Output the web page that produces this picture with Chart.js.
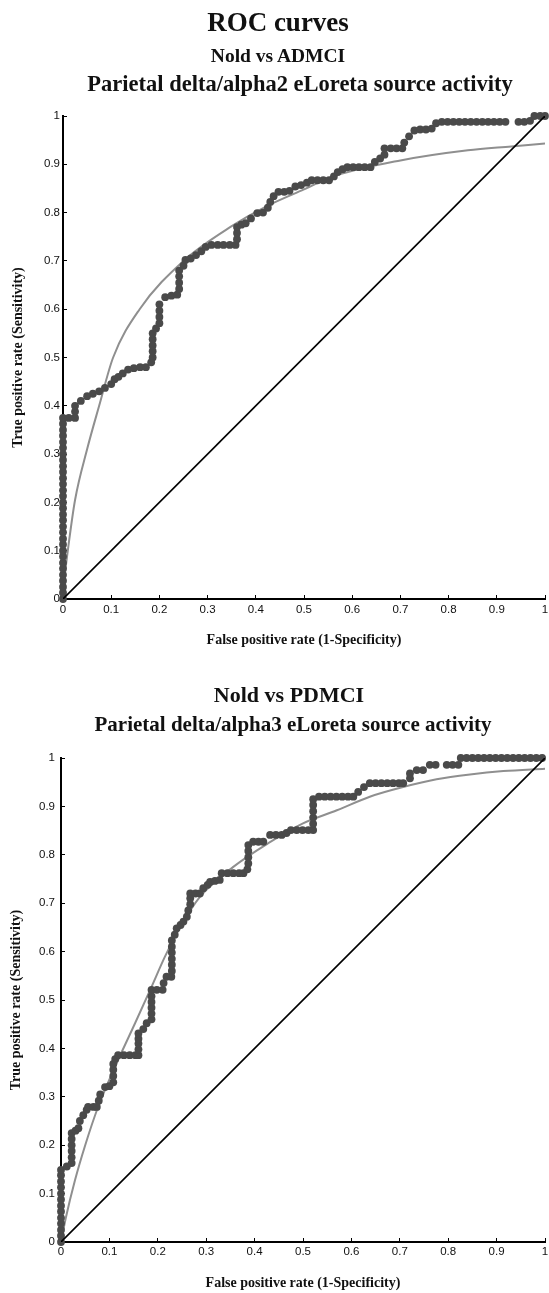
<!DOCTYPE html>
<html>
<head>
<meta charset="utf-8">
<title>ROC curves</title>
<script src="https://cdn.jsdelivr.net/npm/chart.js@4.4.1/dist/chart.umd.min.js"></script>
<style>
  html, body { margin: 0; padding: 0; background: #fff; }
  body { position: relative; width: 549px; height: 1293px; overflow: hidden; }
  canvas { position: absolute; left: 0; }
  .t {
    position: absolute;
    font-family: 'Liberation Serif', 'Times New Roman', serif;
    font-weight: bold;
    line-height: 1;
    white-space: nowrap;
    transform: translateX(-50%);
    color: #111;
  }
</style>
</head>
<body>
<canvas id="admciChart" width="549" height="655" style="top:0"></canvas>
<canvas id="pdmciChart" width="549" height="638" style="top:655px"></canvas>

<div class="t" style="left:278px;top:9px;font-size:27px">ROC curves</div>
<div class="t" style="left:278px;top:46px;font-size:19.5px">Nold vs ADMCI</div>
<div class="t" style="left:300px;top:73px;font-size:22.5px">Parietal delta/alpha2 eLoreta source activity</div>
<div class="t" style="left:289px;top:684px;font-size:22px">Nold vs PDMCI</div>
<div class="t" style="left:293px;top:714px;font-size:21px">Parietal delta/alpha3 eLoreta source activity</div>

<script>
// axis ticks (both axes, both charts)
const tickValues = [0, 0.1, 0.2, 0.3, 0.4, 0.5, 0.6, 0.7, 0.8, 0.9, 1];

// chance line
const chanceFpr = [0, 1];
const chanceTpr = [0, 1];

// Nold vs ADMCI - empirical ROC points [fpr, tpr]
const admciRoc = [
  [0,0],[0,0.013],[0,0.025],[0,0.038],[0,0.05],[0,0.063],[0,0.075],[0,0.088],[0,0.1],[0,0.113],
  [0,0.125],[0,0.138],[0,0.15],[0,0.163],[0,0.175],[0,0.188],[0,0.2],[0,0.213],[0,0.225],[0,0.238],
  [0,0.25],[0,0.263],[0,0.275],[0,0.288],[0,0.3],[0,0.313],[0,0.325],[0,0.338],[0,0.35],[0,0.363],[0,0.375],
  [0.012,0.375],[0.025,0.375],[0.025,0.388],[0.025,0.4],[0.037,0.41],[0.05,0.42],[0.062,0.425],[0.075,0.43],
  [0.087,0.437],[0.1,0.445],[0.107,0.455],[0.115,0.46],[0.124,0.467],[0.135,0.475],[0.147,0.478],[0.16,0.48],
  [0.172,0.48],[0.183,0.49],[0.186,0.5],[0.186,0.513],[0.186,0.525],[0.186,0.538],[0.186,0.55],[0.193,0.56],
  [0.2,0.571],[0.2,0.584],[0.2,0.597],[0.2,0.61],[0.212,0.625],[0.225,0.628],[0.237,0.63],[0.241,0.642],
  [0.241,0.655],[0.241,0.668],[0.241,0.68],[0.25,0.69],[0.254,0.702],[0.265,0.705],[0.276,0.712],[0.287,0.72],
  [0.296,0.729],[0.308,0.733],[0.321,0.733],[0.333,0.733],[0.346,0.733],[0.358,0.733],[0.361,0.745],[0.361,0.758],
  [0.361,0.77],[0.37,0.775],[0.379,0.778],[0.39,0.788],[0.403,0.799],[0.415,0.8],[0.425,0.81],[0.43,0.822],
  [0.437,0.834],[0.447,0.843],[0.459,0.843],[0.47,0.845],[0.482,0.854],[0.494,0.857],[0.506,0.862],[0.516,0.867],
  [0.528,0.867],[0.54,0.867],[0.552,0.867],[0.562,0.875],[0.57,0.884],[0.58,0.89],[0.59,0.894],[0.602,0.894],
  [0.614,0.894],[0.626,0.894],[0.638,0.894],[0.647,0.905],[0.658,0.912],[0.667,0.92],[0.667,0.933],[0.68,0.933],
  [0.692,0.933],[0.704,0.933],[0.708,0.945],[0.718,0.958],[0.729,0.97],[0.741,0.972],[0.753,0.972],[0.765,0.974],
  [0.774,0.985],[0.786,0.988],[0.798,0.988],[0.81,0.988],[0.822,0.988],[0.834,0.988],[0.846,0.988],[0.858,0.988],
  [0.87,0.988],[0.882,0.988],[0.894,0.988],[0.906,0.988],[0.918,0.988],[0.945,0.988],[0.957,0.988],[0.969,0.99],
  [0.978,1],[0.99,1],[1,1]
];

// Nold vs ADMCI - fitted (smooth) ROC
const admciFit = [
  [0,0],[0.004,0.05],[0.011,0.108],[0.025,0.205],[0.05,0.31],[0.075,0.4],[0.104,0.5],[0.159,0.6],
  [0.25,0.7],[0.35,0.772],[0.42,0.812],[0.5,0.848],[0.564,0.876],[0.7,0.908],[0.84,0.929],[0.93,0.937],[1,0.943]
];

// Nold vs PDMCI - empirical ROC points [fpr, tpr]
const pdmciRoc = [
  [0,0],[0,0.013],[0,0.025],[0,0.038],[0,0.05],[0,0.063],[0,0.075],[0,0.088],[0,0.1],[0,0.113],
  [0,0.125],[0,0.138],[0,0.149],[0.012,0.156],[0.022,0.163],[0.022,0.175],[0.022,0.188],[0.022,0.2],
  [0.022,0.213],[0.022,0.225],[0.03,0.23],[0.036,0.235],[0.039,0.25],[0.046,0.262],[0.053,0.273],[0.056,0.279],
  [0.067,0.279],[0.074,0.279],[0.078,0.292],[0.081,0.305],[0.091,0.32],[0.1,0.322],[0.108,0.33],[0.108,0.343],
  [0.108,0.356],[0.108,0.368],[0.112,0.378],[0.118,0.386],[0.13,0.386],[0.142,0.386],[0.154,0.386],[0.16,0.386],
  [0.16,0.398],[0.16,0.41],[0.16,0.42],[0.16,0.431],[0.17,0.44],[0.177,0.452],[0.187,0.46],[0.187,0.472],
  [0.187,0.484],[0.187,0.496],[0.187,0.508],[0.187,0.521],[0.198,0.521],[0.21,0.521],[0.212,0.535],[0.218,0.548],
  [0.228,0.548],[0.229,0.56],[0.229,0.573],[0.229,0.585],[0.229,0.598],[0.229,0.61],[0.229,0.623],[0.235,0.635],
  [0.239,0.648],[0.247,0.655],[0.253,0.662],[0.26,0.672],[0.263,0.685],[0.267,0.698],[0.267,0.71],[0.267,0.72],
  [0.278,0.72],[0.287,0.72],[0.294,0.731],[0.303,0.738],[0.308,0.744],[0.318,0.746],[0.328,0.748],[0.332,0.762],
  [0.344,0.762],[0.356,0.762],[0.368,0.762],[0.377,0.762],[0.385,0.77],[0.387,0.782],[0.387,0.795],[0.387,0.808],
  [0.387,0.82],[0.397,0.827],[0.408,0.827],[0.418,0.827],[0.432,0.841],[0.444,0.841],[0.456,0.841],[0.466,0.845],
  [0.475,0.851],[0.487,0.851],[0.499,0.851],[0.511,0.851],[0.521,0.851],[0.521,0.864],[0.521,0.877],[0.521,0.89],
  [0.521,0.903],[0.521,0.915],[0.533,0.92],[0.545,0.92],[0.557,0.92],[0.569,0.92],[0.581,0.92],[0.593,0.92],
  [0.604,0.92],[0.614,0.93],[0.626,0.94],[0.638,0.948],[0.65,0.948],[0.662,0.948],[0.674,0.948],[0.686,0.948],
  [0.698,0.948],[0.707,0.948],[0.721,0.958],[0.721,0.968],[0.735,0.975],[0.748,0.975],[0.762,0.986],[0.774,0.986],
  [0.797,0.986],[0.809,0.986],[0.821,0.986],[0.826,1],[0.838,1],[0.85,1],[0.862,1],[0.874,1],[0.886,1],
  [0.898,1],[0.91,1],[0.922,1],[0.934,1],[0.946,1],[0.958,1],[0.97,1],[0.982,1],[0.994,1]
];

// Nold vs PDMCI - fitted (smooth) ROC
const pdmciFit = [
  [0,0],[0.01,0.05],[0.029,0.128],[0.05,0.2],[0.077,0.28],[0.118,0.376],[0.153,0.452],[0.187,0.527],
  [0.215,0.59],[0.246,0.65],[0.287,0.713],[0.356,0.775],[0.43,0.825],[0.5,0.865],[0.57,0.892],[0.638,0.92],
  [0.707,0.94],[0.776,0.956],[0.845,0.966],[0.914,0.973],[1,0.978]
];

const serif = "'Liberation Serif', 'Times New Roman', serif";
Chart.defaults.font.family = "'Liberation Sans', Arial, sans-serif";

function toPoints(pairs) {
    return pairs.map(p => ({ x: p[0], y: p[1] }));
}

function setTicks(scale) {
    scale.ticks = tickValues.map(v => ({ value: v }));
}

function tickLabel(value) {
    return String(Math.round(value * 10) / 10);
}

function buildChart(canvasId, roc, fit, box) {
    const ctx = document.getElementById(canvasId).getContext('2d');
    return new Chart(ctx, {
        type: 'scatter',
        data: {
            datasets: [
                {
                    label: 'Chance',
                    data: chanceFpr.map((x, i) => ({ x: x, y: chanceTpr[i] })),
                    showLine: true,
                    borderColor: '#000',
                    borderWidth: 1.6,
                    pointRadius: 0,
                    order: 0
                },
                {
                    label: 'Empirical ROC',
                    data: toPoints(roc),
                    showLine: false,
                    pointRadius: 3.9,
                    pointBackgroundColor: '#4a4a4a',
                    pointBorderWidth: 0,
                    clip: false,
                    order: 1
                },
                {
                    label: 'Fitted ROC',
                    data: toPoints(fit),
                    showLine: true,
                    borderColor: '#8f8f8f',
                    borderWidth: 2,
                    pointRadius: 0,
                    cubicInterpolationMode: 'monotone',
                    order: 2
                }
            ]
        },
        options: {
            responsive: false,
            animation: false,
            layout: { padding: { top: box.top, right: box.right, left: 0, bottom: 0 } },
            plugins: {
                legend: { display: false },
                tooltip: { enabled: false }
            },
            scales: {
                x: {
                    type: 'linear',
                    min: 0,
                    max: 1,
                    afterBuildTicks: setTicks,
                    afterFit: s => { s.height = box.xAxisHeight; s.paddingLeft = 0; s.paddingRight = 0; },
                    grid: { drawOnChartArea: false, tickLength: -4, tickColor: '#000', tickWidth: 1 },
                    border: { color: '#000', width: 2 },
                    ticks: { padding: box.xTickPad, color: '#111', font: { size: 11.5 }, maxRotation: 0, autoSkip: false, callback: tickLabel },
                    title: {
                        display: true,
                        text: 'False positive rate (1-Specificity)',
                        color: '#111',
                        font: { family: serif, weight: 'bold', size: 14 },
                        padding: { top: 0, bottom: box.xTitlePad }
                    }
                },
                y: {
                    type: 'linear',
                    min: 0,
                    max: 1,
                    afterBuildTicks: setTicks,
                    afterFit: s => { s.width = box.left; s.paddingTop = 0; s.paddingBottom = 0; },
                    grid: { drawOnChartArea: false, tickLength: -4, tickColor: '#000', tickWidth: 1 },
                    border: { color: '#000', width: 2 },
                    ticks: { padding: box.yTickPad, color: '#111', font: { size: 11.5 }, autoSkip: false, callback: tickLabel },
                    title: {
                        display: true,
                        text: 'True positive rate (Sensitivity)',
                        color: '#111',
                        font: { family: serif, weight: 'bold', size: 14 },
                        padding: { top: box.yTitlePad, bottom: 0 }
                    }
                }
            }
        }
    });
}

buildChart('admciChart', admciRoc, admciFit, {
    top: 116, right: 1, left: 63, xAxisHeight: 56,
    xTickPad: 8, yTickPad: 7, xTitlePad: 6.6, yTitlePad: 10
});

buildChart('pdmciChart', pdmciRoc, pdmciFit, {
    top: 103, right: 4, left: 61, xAxisHeight: 51,
    xTickPad: 7, yTickPad: 10, xTitlePad: 1.6, yTitlePad: 7.6
});
</script>
</body>
</html>
